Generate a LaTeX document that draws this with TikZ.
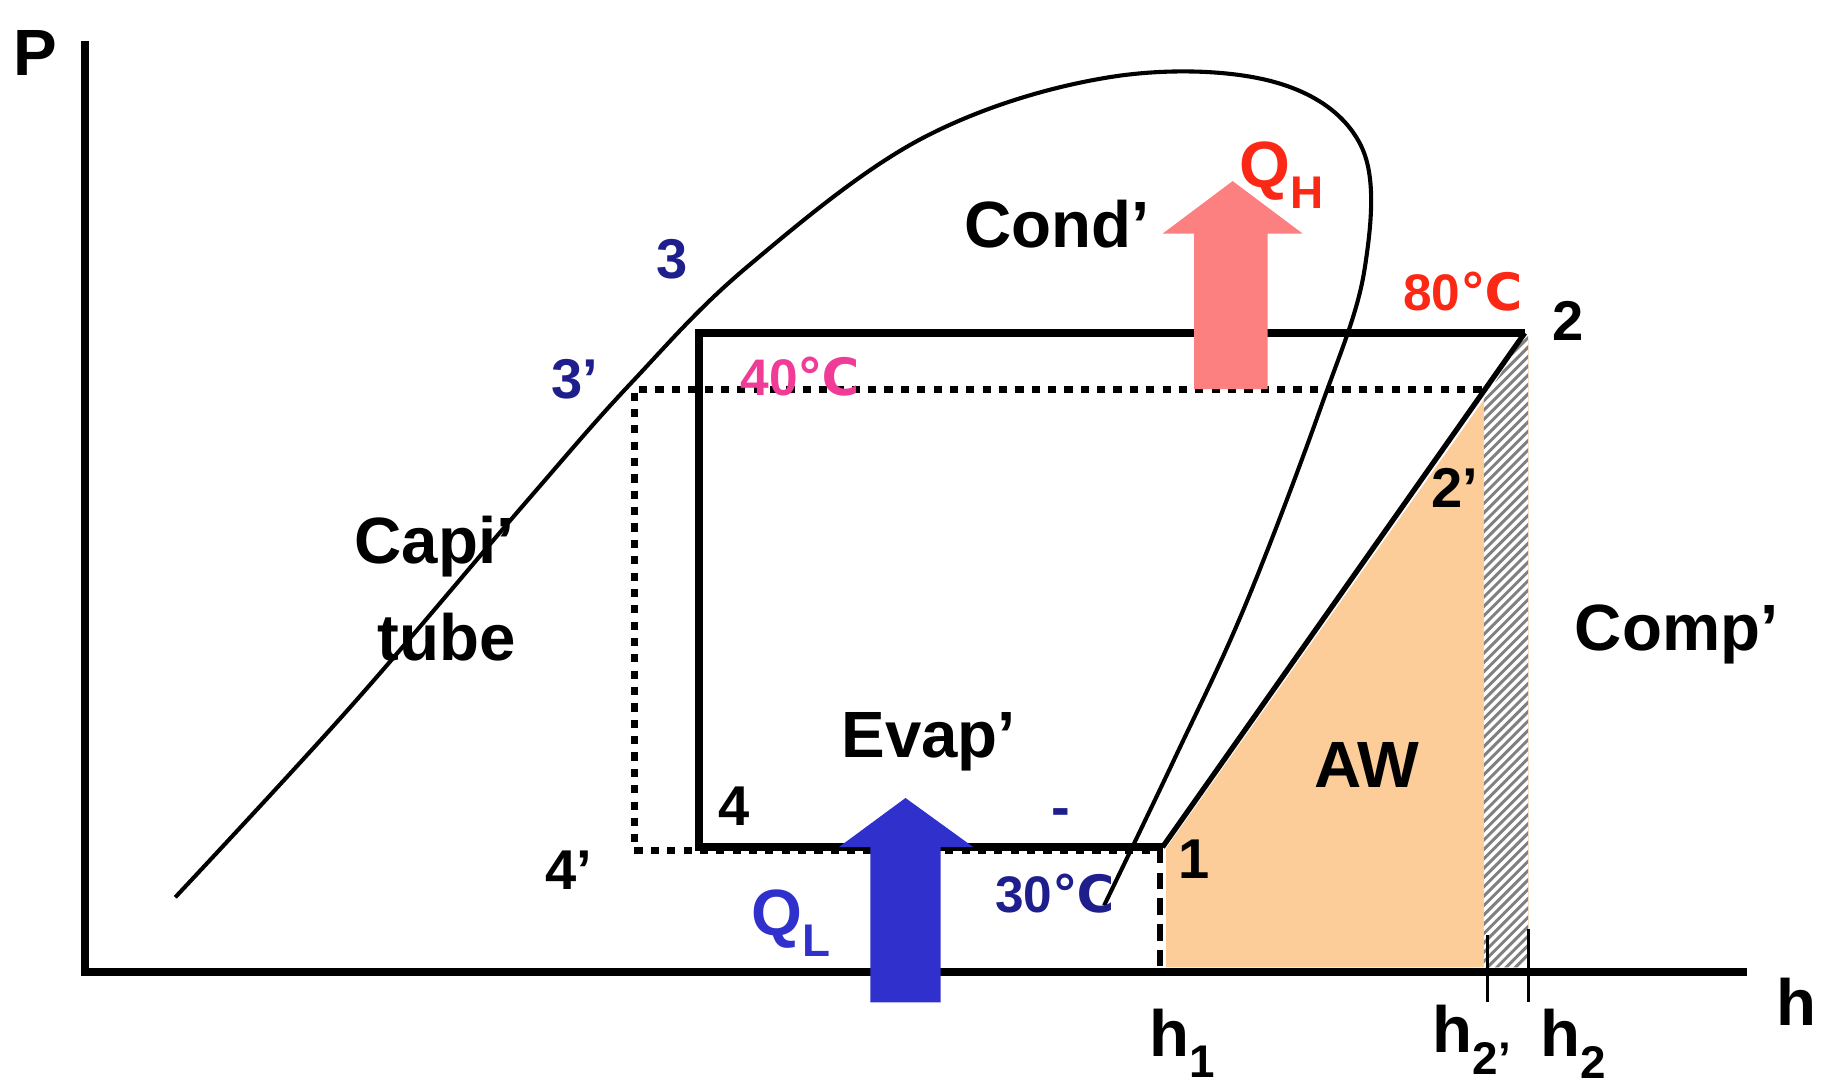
\documentclass[tikz,border=0pt]{standalone}
\usepackage{fontspec}
\setmainfont{Liberation Sans}
\newfontfamily\djv{DejaVu Sans}
\definecolor{aworange}{RGB}{252,204,153}
\definecolor{qhred}{RGB}{252,128,128}
\definecolor{qlblue}{RGB}{48,48,204}
\definecolor{dblue}{RGB}{30,30,140}
\definecolor{magc}{RGB}{240,60,150}
\definecolor{redt}{RGB}{250,40,20}
\newcommand{\degc}{{\djv\char"2103}}
\begin{document}
\begin{tikzpicture}[x=1pt,y=-1pt,
  lbl/.style={font=\bfseries\fontsize{48}{52}\selectfont, inner sep=0pt},
  big/.style={font=\bfseries\fontsize{56}{60}\selectfont, inner sep=0pt},
  thick line/.style={line width=7pt},
  dotl/.style={line width=6pt, dash pattern=on 7pt off 7pt}]
\useasboundingbox (0,0) rectangle (1568,934);
% fills
\fill[aworange] (998,828) -- (998,726) -- (1270,342) -- (1270,828) -- cycle;
\fill[aworange!60] (1300,290) rectangle (1309,828);
\begin{scope}
\clip (1270,342) -- (1305,288) -- (1308,288) -- (1308,828) -- (1270,828) -- cycle;
\fill[white] (1260,280) rectangle (1310,830);
\foreach \k in {0,...,70} {
  \draw[gray, line width=2.5pt] (1265,300+8*\k) -- (1315,300+8*\k-50);
}
\end{scope}
% axes
\coordinate (o) at (73,832);
\coordinate (ytop) at (73,35);
\coordinate (xend) at (1495,832);
\draw[line width=7pt] (ytop) -- (o) -- (xend);
% dotted cycle
\coordinate (p3d) at (543,333);
\coordinate (p2d) at (1268,333);
\coordinate (p4d) at (543,728);
\coordinate (p1d) at (995,728);
\draw[dotl] (p2d) -- (p3d) -- (p4d) -- (p1d);
% solid cycle
\coordinate (p1) at (995,725);
\coordinate (p2) at (1305,285);
\coordinate (p3) at (598,285);
\coordinate (p4) at (598,725);
\draw[thick line] (p2) -- (p3) -- (p4) -- (p1);
\draw[line width=4.5pt] (p1) -- (p2);
% dashed vertical
\coordinate (h1b) at (993,832);
\draw[line width=5pt, dash pattern=on 14pt off 8pt] (993,725) -- (h1b);
% ticks
\draw[line width=2.5pt] (1273,800) -- (1273,858);
\draw[line width=2.5pt] (1308,795) -- (1308,858);
% dome
\draw[line width=3.5pt] plot[smooth, tension=0.6] coordinates {(150,768) (300,605) (450,430) (540,328) (640,228) (790,118) (950,66) (1090,70) (1165,125) (1168,230) (1130,350) (1065,520) (1005,650) (945,775)};
% QH arrow
\fill[qhred] (1022,333) -- (1022,200) -- (995,200) -- (1055,155) -- (1115,200) -- (1085,200) -- (1085,333) -- cycle;
% QL arrow
\fill[qlblue] (745,858) -- (745,725) -- (718,725) -- (775,683) -- (833,725) -- (805,725) -- (805,858) -- cycle;
% labels
\node[big] (P) at (30,45) {P};
\node[big] (hl) at (1538,857) {h};
\node[lbl, text=dblue] (l3) at (575,222) {3};
\node[lbl, text=dblue] (l3p) at (492,325) {3’};
\node[font=\bfseries\fontsize{44}{48}\selectfont, inner sep=0pt, text=magc] (l40) at (685,322) {40\degc};
\node[font=\bfseries\fontsize{44}{48}\selectfont, inner sep=0pt, text=redt] (l80) at (1252,250) {80\degc};
\node[lbl] (l2) at (1342,275) {2};
\node[lbl] (l2p) at (1245,418) {2’};
\node[big] (cond) at (905,192) {Cond’};
\node[big, text=redt] (qh) at (1097,150) {Q\textsubscript{H}};
\node[big] (capi) at (372,468) {Capi’};
\node[big] (tube) at (382,545) {tube};
\node[big] (comp) at (1435,543) {Comp’};
\node[big] (aw) at (1170,655) {AW};
\node[big] (evap) at (795,635) {Evap’};
\node[lbl] (l4) at (628,690) {4};
\node[lbl] (l4p) at (487,745) {4’};
\node[lbl] (l1) at (1022,735) {1};
\node[lbl, text=dblue] (minus) at (908,700) {-};
\node[font=\bfseries\fontsize{44}{48}\selectfont, inner sep=0pt, text=dblue] (l30) at (903,765) {30\degc};
\node[big, text=qlblue] (ql) at (677,790) {Q\textsubscript{L}};
\node[big] (h1) at (1012,893) {h\textsubscript{1}};
\node[big] (h2p) at (1260,890) {h\textsubscript{2’}};
\node[big] (h2) at (1347,893) {h\textsubscript{2}};
\end{tikzpicture}
\end{document}
